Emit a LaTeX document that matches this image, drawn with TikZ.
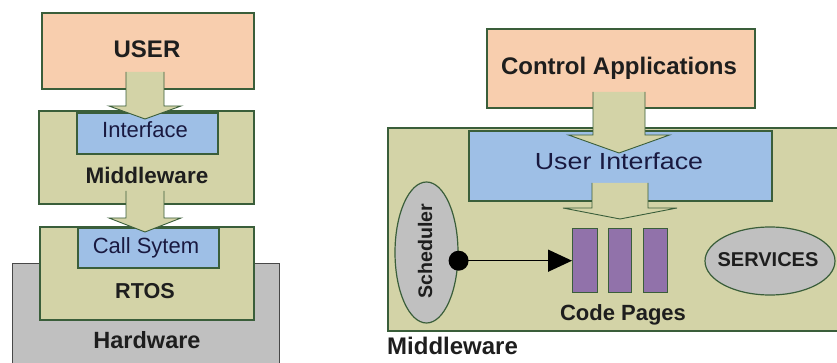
\documentclass[tikz,border=0pt]{standalone}
\usepackage{fontspec}
\setmainfont{Liberation Sans}
\usetikzlibrary{arrows.meta,shapes.geometric}

\definecolor{peach}{RGB}{248,206,174}
\definecolor{khaki}{RGB}{211,211,167}
\definecolor{skyblue}{RGB}{158,191,230}
\definecolor{stone}{RGB}{192,192,192}
\definecolor{plum}{RGB}{145,114,170}
\definecolor{edge}{RGB}{58,94,58}
\definecolor{hwedge}{RGB}{72,72,72}
\definecolor{ink}{RGB}{30,30,30}

\newcommand\fs[1]{\fontsize{#1}{#1}\selectfont}

\tikzset{
  box/.style={draw=edge, line width=1.6pt, inner sep=0pt, anchor=north west},
  hwbox/.style={draw=hwedge, fill=stone, line width=1.4pt, inner sep=0pt, anchor=north west},
  pagebar/.style={draw=edge, fill=plum, line width=1.4pt, inner sep=0pt, anchor=north west,
    minimum width=25, minimum height=64},
  oval/.style={ellipse, draw=edge, fill=stone, line width=1.2pt, inner sep=0pt},
  bold/.style={inner sep=0pt, text=ink, font=\bfseries},
  plain/.style={inner sep=0pt, text=ink!85!blue},
  blkfill/.style={fill=khaki},
  blkline/.style={draw=edge, line width=0.9pt, line join=miter},
}

% block arrow: centre x, top, shaft half width, head half width, head base y, tip y
\newcommand\blockarrow[6]{%
  \fill[blkfill] (#1-#3,#2) -- (#1+#3,#2) -- (#1+#3,#5) -- (#1+#4,#5) -- (#1,#6)
    -- (#1-#4,#5) -- (#1-#3,#5) -- cycle;
  \draw[blkline] (#1+#3,#2) -- (#1+#3,#5) -- (#1+#4,#5) -- (#1,#6)
    -- (#1-#4,#5) -- (#1-#3,#5) -- (#1-#3,#2);}

\begin{document}
\begin{tikzpicture}[x=1pt,y=-1pt]
\useasboundingbox (0,0) rectangle (837,363);

% ---------- layered stack ----------
\node[hwbox, minimum width=267, minimum height=110] (hw) at (12,263) {};
\node[box, fill=peach, minimum width=212, minimum height=76] (user) at (41,12) {};
\node[box, fill=khaki, minimum width=215, minimum height=93] (mid) at (38,110) {};
\node[box, fill=skyblue, minimum width=141, minimum height=41] (iface) at (76,112) {};
\node[box, fill=khaki, minimum width=214, minimum height=93] (rtos) at (39,226) {};
\node[box, fill=skyblue, minimum width=141, minimum height=40] (calls) at (77,227) {};

\blockarrow{145}{72}{19}{36}{106}{119}
\blockarrow{145}{191}{19}{36}{218}{232}

\node[bold, font=\bfseries\fs{24}, anchor=base] (userlbl) at (147,57.3) {USER};
\node[plain, font=\fs{22}, anchor=base] (ifacelbl) at (145,138) {Interface};
\node[bold, font=\bfseries\fs{22.5}, anchor=base] (midlbl) at (147,183.3) {Middleware};
\node[plain, font=\fs{22}, anchor=base] (callslbl) at (146,253) {Call Sytem};
\node[bold, font=\bfseries\fs{21.6}, anchor=base] (rtoslbl) at (145,298) {RTOS};
\node[bold, font=\bfseries\fs{23.5}, anchor=base] (hwlbl) at (147,348) {Hardware};

% ---------- middleware detail ----------
\node[box, fill=khaki, minimum width=460, minimum height=203] (mw) at (387,127) {};
\node[box, fill=peach, minimum width=268, minimum height=79] (ctrl) at (486,28) {};
\node[box, fill=skyblue, minimum width=303, minimum height=70] (ui) at (468,130) {};

\blockarrow{619}{92}{26}{50.5}{135}{153}
\blockarrow{620}{183}{28}{57}{208}{219}

\node[bold, font=\bfseries\fs{24}, anchor=base] (ctrllbl) at (619,75) {Control Applications};
\node[plain, font=\fs{23.3}, anchor=base] (uilbl) at (619,169.3) {\scalebox{1.15}[1]{User Interface}};

\node[oval, minimum width=63, minimum height=141] (sched) at (426.5,252.5) {};
\node[bold, font=\bfseries\fs{19.6}, rotate=90] (schedlbl) at (425,251) {Scheduler};

\node[pagebar] (p1) at (572,228) {};
\node[pagebar, minimum width=23] (p2) at (608,228) {};
\node[pagebar, minimum width=24] (p3) at (643,228) {};
\node[bold, font=\bfseries\fs{22}, anchor=base] (pageslbl) at (623,320) {Code Pages};

\node[oval, minimum width=130, minimum height=68] (serv) at (770,261) {};
\node[bold, font=\bfseries\fs{20}, anchor=base] (servlbl) at (768,266.7) {SERVICES};

\node[circle, fill=black, inner sep=0pt, minimum size=20] (dot) at (sched.east |- p1.west) {};
\draw[line width=1.5pt, -{Triangle[length=24pt,width=22pt]}] (dot.center) -- (p1.west);

\node[bold, font=\bfseries\fs{24}, anchor=base west] (mwlbl) at (387,354) {Middleware};
\end{tikzpicture}
\end{document}
